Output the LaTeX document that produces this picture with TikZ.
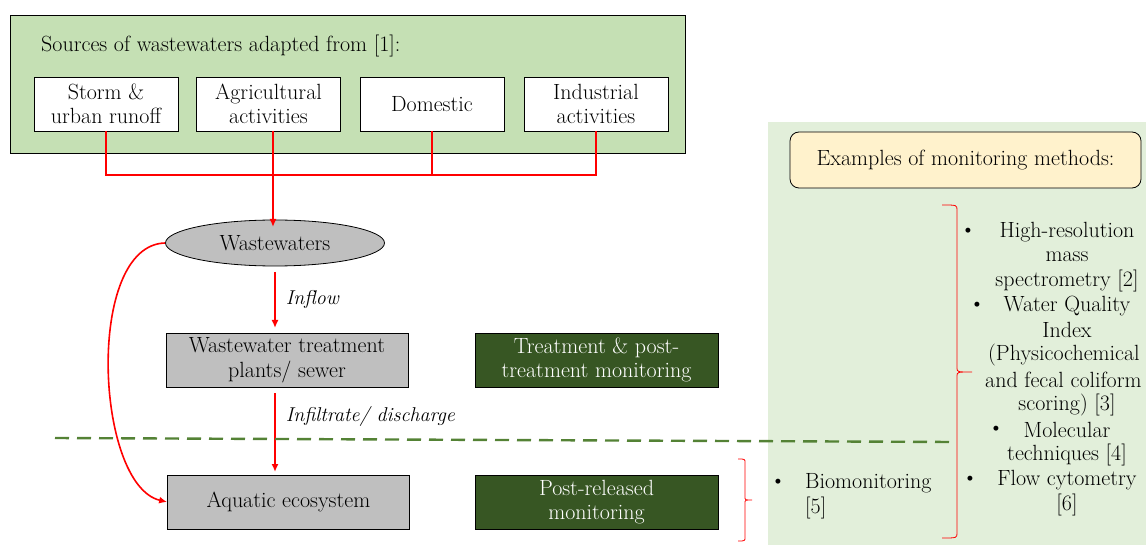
\documentclass[tikz,border=0pt]{standalone}
\usetikzlibrary{arrows.meta,shapes.geometric}
\definecolor{topgreen}{HTML}{C5E0B4}
\definecolor{panelgreen}{HTML}{E2EFDA}
\definecolor{darkgreen}{HTML}{375623}
\definecolor{boxgray}{HTML}{BFBFBF}
\definecolor{paleyellow}{HTML}{FFF2CC}
\definecolor{dashgreen}{HTML}{548235}
\begin{document}
\begin{tikzpicture}[x=1pt,y=-1pt,
  every node/.style={font=\fontsize{22}{24.5}\selectfont, inner sep=0pt},
  srcbox/.style={draw=black, line width=0.8pt, fill=white, minimum width=144pt, minimum height=54pt, align=center},
  graybox/.style={draw=black, line width=0.8pt, fill=boxgray, minimum width=242pt, minimum height=54pt, align=center},
  monbox/.style={draw=black, line width=0.8pt, fill=darkgreen, text=white, minimum width=243pt, minimum height=54pt, align=center},
  redline/.style={draw=red, line width=1.6pt},
  redarrow/.style={draw=red, line width=1.6pt, -{Latex[length=8pt,width=7pt]}},
  brace/.style={draw=red, line width=0.8pt},
  lbl/.style={font=\fontsize{20}{24.5}\selectfont\itshape, anchor=west}
]
\useasboundingbox (0,0) rectangle (1146,545);
\begin{scope}
\clip (0,0) rectangle (1146,545);
% top green panel
\node[draw=black, line width=0.8pt, fill=topgreen, minimum width=675pt, minimum height=138pt, anchor=north west] (topbox) at (10,15) {};
\node[anchor=west] (title) at (41,46) {Sources of wastewaters adapted from [1]:};
\node[srcbox] (storm) at (106,104) {Storm \&\\urban runoff};
\node[srcbox] (agri) at (268.5,104) {Agricultural\\activities};
\node[srcbox] (dom) at (432,104) {Domestic};
\node[srcbox] (ind) at (596,104) {Industrial\\activities};
% right panel
\node[fill=panelgreen, minimum width=380pt, minimum height=425pt, anchor=north west] (panel) at (768,122) {};
\node[draw=black, line width=0.8pt, fill=paleyellow, rounded corners=9pt, minimum width=351pt, minimum height=56pt] (examples) at (965.5,160) {Examples of monitoring methods:};
% ellipse
\node[ellipse, draw=black, line width=0.8pt, fill=boxgray, minimum width=219pt, minimum height=46pt] (ww) at (275,243) {Wastewaters};
% boxes
\node[graybox] (wwtp) at (287,360) {Wastewater treatment\\plants/ sewer};
\node[monbox] (tpm) at (596.5,360) {Treatment \& post-\\treatment monitoring};
\node[graybox] (aqua) at (288.5,502) {Aquatic ecosystem};
\node[monbox] (prm) at (596.5,502) {Post-released\\monitoring};
% connectors from sources
\coordinate (j1) at (106,175);
\coordinate (j3) at (432,175);
\coordinate (j4) at (596,175);
\draw[redline] (storm.south) -- (j1) -- (j4) -- (ind.south);
\draw[redline] (dom.south) -- (j3);
\coordinate (a0) at (273,131);
\coordinate (a1) at (273,227);
\draw[redarrow] (a0) -- (a1);
% main arrows
\coordinate (i0) at (275,272);
\coordinate (i1) at (275,328);
\coordinate (f0) at (275,393);
\coordinate (f1) at (275,472);
\draw[redarrow] (i0) -- (i1) node[lbl, midway, xshift=10pt] (inflow) {Inflow};
\draw[redarrow] (f0) -- (f1) node[lbl, pos=0.3, xshift=10pt] (infil) {Infiltrate/ discharge};
\draw[redarrow] (ww.west) .. controls (85,245) and (95,485) .. (aqua.west);
% dashed line
\coordinate (d1) at (55,438);
\coordinate (d2) at (952,442);
\draw[draw=dashgreen, line width=2.4pt, dash pattern=on 14pt off 8pt] (d1) -- (d2);
% small brace
\draw[brace] (738,459) .. controls (745,459) .. (745,463) -- (745,497) .. controls (745,500) .. (752,500) .. controls (745,500) .. (745,503) -- (745,537) .. controls (745,541) .. (738,541);
% big brace
\draw[brace] (942,205) .. controls (957,205) .. (957,210) -- (957,368) .. controls (957,372) .. (972,372) .. controls (957,372) .. (957,376) -- (957,533) .. controls (957,538) .. (942,538);
% biomonitoring
\node (b0) at (778,483) {\textbullet};
\node[anchor=west] (bio1) at (805,483) {Biomonitoring};
\node[anchor=west] (bio2) at (805,508) {[5]};
% right list
\node (l1) at (1067,232) {High-resolution};
\node (l2) at (1067,257) {mass};
\node (l3) at (1067,281) {spectrometry [2]};
\node (l4) at (1067,306) {Water Quality};
\node (l5) at (1067,330) {Index};
\node[anchor=west] (l6) at (988,355) {(Physicochemical};
\node[anchor=west] (l7) at (985,380) {and fecal coliform};
\node (l8) at (1067,405) {scoring) [3]};
\node (l9) at (1067,430) {Molecular};
\node (l10) at (1067,455) {techniques [4]};
\node (l11) at (1067,480) {Flow cytometry};
\node (l12) at (1067,505) {[6]};
\node (b1) at (968,232) {\textbullet};
\node (b2) at (977,306) {\textbullet};
\node (b3) at (996,430) {\textbullet};
\node (b4) at (970,480) {\textbullet};
\end{scope}
\end{tikzpicture}
\end{document}
